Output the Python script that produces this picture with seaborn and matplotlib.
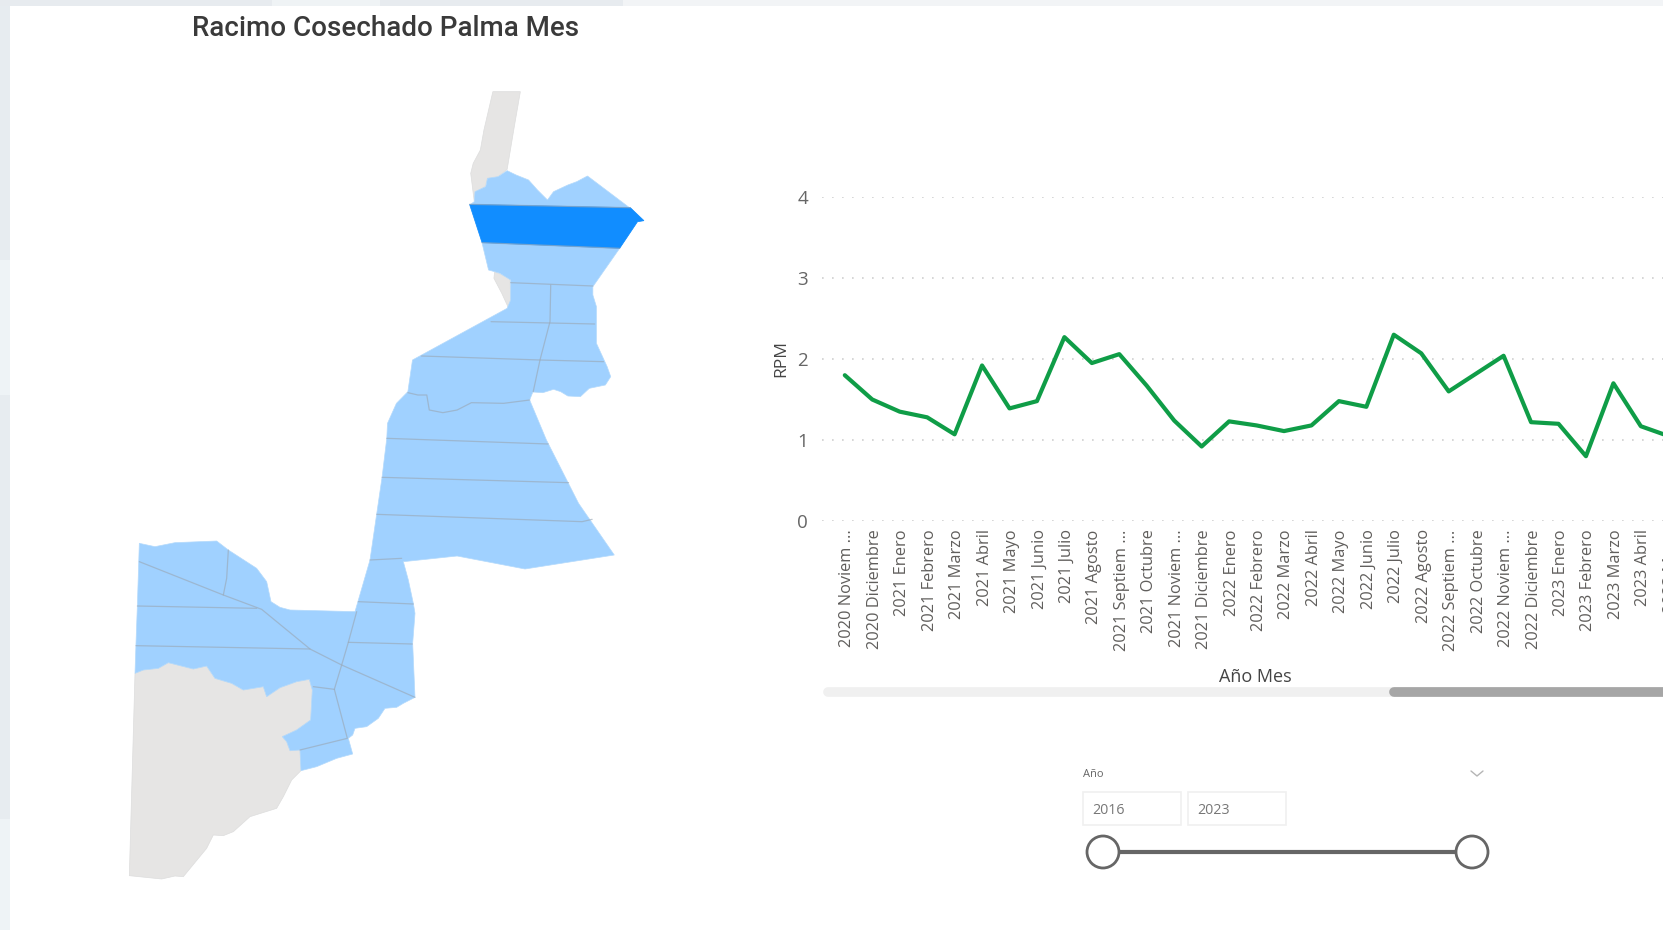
import matplotlib
matplotlib.use("Agg")
import matplotlib.pyplot as plt
import pandas as pd
import seaborn as sns
from matplotlib.patches import Circle, Polygon, Rectangle
from matplotlib.transforms import ScaledTranslation

W, H = 1663, 930

# monthly values
MESES = [
    "2020 Noviem ...", "2020 Diciembre", "2021 Enero", "2021 Febrero", "2021 Marzo",
    "2021 Abril", "2021 Mayo", "2021 Junio", "2021 Julio", "2021 Agosto",
    "2021 Septiem ...", "2021 Octubre", "2021 Noviem ...", "2021 Diciembre", "2022 Enero",
    "2022 Febrero", "2022 Marzo", "2022 Abril", "2022 Mayo", "2022 Junio",
    "2022 Julio", "2022 Agosto", "2022 Septiem ...", "2022 Octubre", "2022 Noviem ...",
    "2022 Diciembre", "2023 Enero", "2023 Febrero", "2023 Marzo", "2023 Abril", "2023 Mayo",
]
RPM = [
    1.80, 1.50, 1.35, 1.28, 1.07, 1.92, 1.39, 1.48, 2.27, 1.95, 2.06, 1.67, 1.24, 0.92, 1.23,
    1.18, 1.11, 1.18, 1.48, 1.41, 2.30, 2.07, 1.60, 1.82, 2.04, 1.22, 1.20, 0.80, 1.70, 1.17, 1.05,
]
Y_TICKS = [0, 1, 2, 3, 4]
ANIOS = ["2016", "2023"]


def upper(pts):
    return [(100 + x / 2.8, 70 + y / 3) for x, y in pts]


def lower(pts):
    return [(100 + x / 3, 500 + y / 3) for x, y in pts]


BLUE_AREA = upper([
    (1048, 395), (1050, 365), (1080, 350), (1085, 325), (1115, 320), (1140, 302), (1165, 315), (1200, 330),
    (1225, 360), (1253, 390), (1270, 365), (1310, 345), (1335, 335), (1365, 318), (1485, 415), (1523, 452),
    (1505, 455), (1455, 535), (1380, 650), (1380, 675), (1390, 710), (1390, 820), (1420, 890), (1430, 920),
    (1415, 945), (1370, 955), (1345, 980), (1310, 978), (1290, 965), (1270, 958), (1240, 968), (1212, 966),
    (1203, 990), (1250, 1110), (1340, 1300), (1440, 1455), (1190, 1497), (1000, 1458), (850, 1475),
]) + lower([
    (910, 185), (925, 240), (940, 310), (945, 340), (938, 430), (945, 592), (910, 610), (890, 622),
    (855, 625), (835, 655), (800, 680), (765, 685), (758, 705), (745, 715), (758, 762), (710, 775),
    (650, 800), (603, 812), (600, 750), (570, 752), (560, 725), (547, 710), (590, 690), (632, 660),
    (637, 570), (628, 538), (590, 545), (540, 563), (500, 590), (490, 560), (430, 570), (395, 550),
    (345, 535), (320, 498), (280, 507), (205, 488), (175, 505), (130, 510), (105, 520), (108, 430),
    (112, 320), (118, 130), (165, 140), (225, 128), (350, 123), (385, 150), (470, 205), (500, 245),
    (513, 305), (540, 322), (570, 330), (765, 335), (810, 180),
]) + upper([
    (775, 1330), (790, 1220), (803, 1105), (805, 1060), (830, 1000), (862, 965), (875, 870), (1140, 715),
    (1150, 690), (1150, 630), (1120, 610), (1105, 605), (1088, 600), (1070, 520), (1035, 405),
])
DARK_AREA = upper([(1035, 403), (1485, 413), (1523, 452), (1505, 455), (1455, 535), (1070, 518)])
GREY_AREAS = [
    upper([
        (1100, 65), (1177, 65), (1160, 170), (1140, 298), (1115, 320), (1085, 325), (1078, 350), (1050, 368),
        (1048, 395), (1038, 310), (1045, 280), (1065, 240), (1075, 180),
    ]),
    upper([(1105, 605), (1120, 612), (1148, 625), (1150, 690), (1143, 712), (1125, 670), (1103, 625)]),
    lower([
        (105, 520), (130, 510), (175, 505), (205, 488), (280, 507), (320, 498), (345, 535), (395, 550),
        (430, 570), (490, 560), (500, 590), (540, 563), (590, 545), (628, 538), (637, 570), (632, 660),
        (590, 690), (547, 710), (560, 725), (570, 752), (600, 750), (603, 812), (575, 840), (550, 890),
        (530, 925), (450, 950), (400, 995), (370, 1007), (340, 1005), (320, 1045), (250, 1130), (225, 1128),
        (185, 1137), (88, 1127),
    ]),
]
BORDERS = [
    upper(p) for p in [
        [(1035, 403), (1485, 413)],
        [(1070, 518), (1455, 535)],
        [(1150, 638), (1380, 648)],
        [(1262, 645), (1260, 755), (1232, 870), (1213, 965)],
        [(1095, 755), (1385, 762)],
        [(900, 858), (1232, 870), (1410, 875)],
        [(862, 968), (890, 975), (915, 975), (922, 1020), (960, 1028), (1000, 1020), (1040, 998), (1130, 1000), (1203, 990)],
        [(803, 1105), (1255, 1122)],
        [(790, 1222), (1312, 1238)],
        [(775, 1333), (1350, 1355), (1378, 1348)],
    ]
] + [
    lower(p) for p in [
        [(810, 180), (905, 175)],
        [(775, 305), (940, 312)],
        [(745, 427), (937, 432)],
        [(770, 335), (745, 427), (725, 495), (703, 568), (640, 560)],
        [(703, 568), (742, 715), (600, 750)],
        [(118, 185), (370, 285), (485, 328), (630, 447), (725, 495), (945, 592)],
        [(112, 318), (470, 325)],
        [(108, 437), (630, 447)],
        [(385, 150), (380, 235), (370, 285)],
    ]
]

sns.set_theme(style="white")
plt.rcParams["font.family"] = ["Open Sans", "DejaVu Sans"]

fig = plt.figure(figsize=(W / 100, H / 100), dpi=100, facecolor="white")

# page layer in pixel coordinates: strips, map, slicer
bg = fig.add_axes([0, 0, 1, 1])
bg.set_xlim(0, W)
bg.set_ylim(H, 0)
bg.axis("off")
bg.add_patch(Rectangle((0, 0), 9.5, H, color="#e7ecf0", lw=0))
bg.add_patch(Rectangle((0, 260), 9.5, 135, color="#eef3f6", lw=0))
bg.add_patch(Rectangle((0, 819), 9.5, 111, color="#eef3f6", lw=0))
bg.add_patch(Rectangle((0, 0), W, 6.5, color="#e7ebef", lw=0))
bg.add_patch(Rectangle((272, 0), 108, 6.5, color="#eff3f5", lw=0))
bg.add_patch(Rectangle((623, 0), W - 623, 6.5, color="#f2f4f6", lw=0))

bg.text(386, 29, "Racimo Cosechado Palma Mes", family="Roboto", fontsize=20, fontweight="medium",
        color="#3a3a3a", ha="center", va="center")

for pts in GREY_AREAS:
    bg.add_patch(Polygon(pts, closed=True, fc="#e6e5e4", ec="#dddddd", lw=0.5))
bg.add_patch(Polygon(BLUE_AREA, closed=True, fc="#a0d1ff", ec="#b4dafc", lw=0.5))
bg.add_patch(Polygon(DARK_AREA, closed=True, fc="#118dff", ec="#118dff", lw=0.5))
for line in BORDERS:
    bg.plot(*zip(*line), color="#9aa9b8", lw=0.9, alpha=0.65, solid_capstyle="round")

# scrollbar under the line chart
bg.plot([828, W + 10], [692, 692], color="#f0f0f0", lw=7, solid_capstyle="round")
bg.plot([1394, W + 10], [692, 692], color="#a6a6a6", lw=7, solid_capstyle="round")

# year slicer
bg.text(1083, 774, "Año", fontsize=8, color="#666666", va="center")
bg.plot([1471, 1477, 1483], [771, 776, 771], color="#b5b5b5", lw=1)
for x0, year in zip([1083, 1188], ANIOS):
    bg.add_patch(Rectangle((x0, 792), 98, 33, fc="white", ec="#f0f0f0", lw=1.2))
    bg.text(x0 + 9, 810, year, fontsize=10.3, color="#777777", va="center")
bg.plot([1103, 1472], [852, 852], color="#666666", lw=3, zorder=3)
for cx in [1103, 1472]:
    bg.add_patch(Circle((cx, 852), 16, fc="white", ec="#666666", lw=2, zorder=4))

# line chart, its right end runs past the page like in the report
x_step = 27.45
x_first = 844.8
ax_left, ax_right = 822, 1720
ax_top, ax_bottom = 197, 521
ax = fig.add_axes([ax_left / W, 1 - ax_bottom / H, (ax_right - ax_left) / W, (ax_bottom - ax_top) / H])
ax.patch.set_alpha(0)

df = pd.DataFrame({"Mes": range(len(MESES)), "RPM": RPM})
sns.lineplot(data=df, x="Mes", y="RPM", color="#0f9d47", lw=3, ax=ax)

ax.set_xlim((ax_left - x_first) / x_step, (ax_right - x_first) / x_step)
ax.set_ylim(0, 4)
ax.set_yticks(Y_TICKS)
ax.set_xticks(df["Mes"])
ax.set_xticklabels(MESES, rotation=90, fontsize=11.8, color="#605e5c")
ax.tick_params(axis="y", labelsize=13.5, labelcolor="#666666", length=0, pad=10)
ax.tick_params(axis="x", length=0, pad=6)
# rotated labels sit a little left of their ticks otherwise, has to come after tick_params
nudge = ScaledTranslation(2.5 / 100, 0, fig.dpi_scale_trans)
for label in ax.get_xticklabels():
    label.set_transform(label.get_transform() + nudge)
ax.grid(axis="y", color="#d0d0d0", lw=1.2, linestyle=(0, (1, 5)))
ax.set_axisbelow(True)
for spine in ax.spines.values():
    spine.set_visible(False)
ax.set_xlabel("")
ax.set_ylabel("")

bg.text(781, 358, "RPM", fontsize=12.5, fontweight="medium", color="#444444", rotation=90, ha="center", va="center")
bg.text(1255, 677, "Año Mes", fontsize=13, fontweight="medium", color="#444444", ha="center", va="center")

fig.savefig("out.png", dpi=100)
